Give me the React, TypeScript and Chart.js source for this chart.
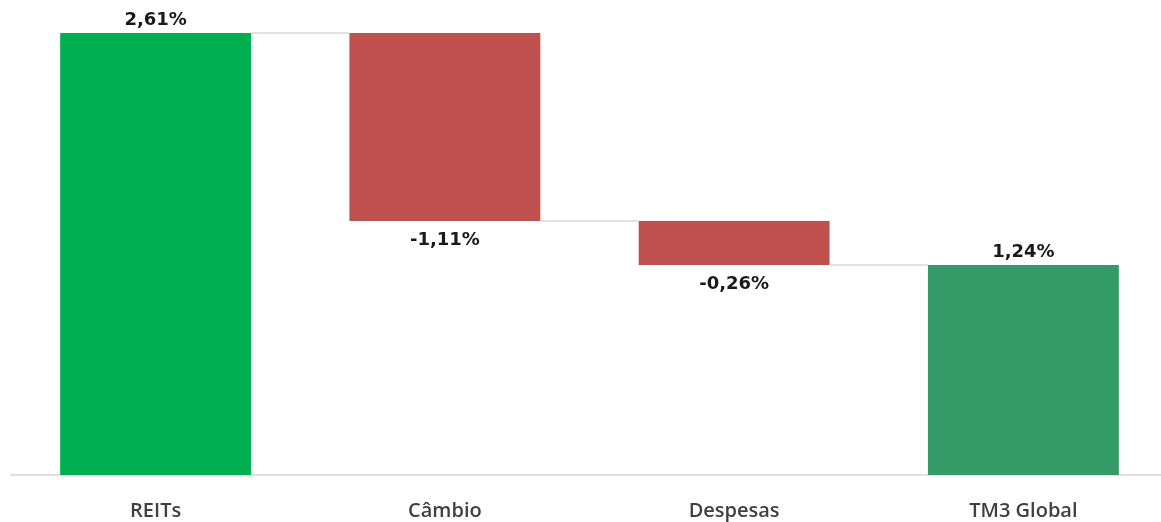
import React, { useEffect, useRef } from "react";
import { Chart, registerables } from "chart.js";

Chart.register(...registerables);

const categories = ["REITs", "Câmbio", "Despesas", "TM3 Global"];
// Contribution of each step (percentage points); last bar is the total.
const changes = [2.61, -1.11, -0.26];
const totalValue = 1.24;
const barColors = ["#00AF50", "#C0504D", "#C0504D", "#349A68"];

const fmt = (v: number) => v.toFixed(2).replace(".", ",") + "%";

// Build floating ranges for the waterfall
const ranges: [number, number][] = [];
const displayValues: number[] = [];
let running = 0;
changes.forEach((c) => {
  const start = running;
  running += c;
  ranges.push([Math.min(start, running), Math.max(start, running)]);
  displayValues.push(c);
});
ranges.push([0, totalValue]);
displayValues.push(totalValue);

const waterfallPlugin = {
  id: "waterfallDecor",
  afterDatasetsDraw(chart: any) {
    const { ctx } = chart;
    const meta = chart.getDatasetMeta(0);
    const yScale = chart.scales.y;
    ctx.save();
    // connector lines between consecutive bars
    ctx.strokeStyle = "#d9d9d9";
    ctx.lineWidth = 1.5;
    for (let i = 0; i < meta.data.length - 1; i++) {
      const a = meta.data[i] as any;
      const b = meta.data[i + 1] as any;
      const level = ranges.slice(0, i + 1).reduce((s, _r, k) => s + (k < changes.length ? changes[k] : 0), 0);
      const y = yScale.getPixelForValue(level);
      ctx.beginPath();
      ctx.moveTo(a.x + a.width / 2, y);
      ctx.lineTo(b.x - b.width / 2, y);
      ctx.stroke();
    }
    // value labels
    ctx.font = "bold 18px 'DejaVu Sans', Verdana, sans-serif";
    ctx.fillStyle = "#1a1a1a";
    ctx.textAlign = "center";
    meta.data.forEach((bar: any, i: number) => {
      const v = displayValues[i];
      const r = ranges[i];
      if (v >= 0) {
        ctx.textBaseline = "bottom";
        ctx.fillText(fmt(v), bar.x, yScale.getPixelForValue(r[1]) - 4);
      } else {
        ctx.textBaseline = "top";
        ctx.fillText(fmt(v), bar.x, yScale.getPixelForValue(r[0]) + 10);
      }
    });
    ctx.restore();
  },
};

export default function App() {
  const ref = useRef<HTMLCanvasElement | null>(null);
  useEffect(() => {
    if (!ref.current) return;
    const chart = new Chart(ref.current, {
      type: "bar",
      data: {
        labels: categories,
        datasets: [
          {
            data: ranges as any,
            backgroundColor: barColors,
            borderWidth: 0,
            borderSkipped: false,
            categoryPercentage: 1,
            barPercentage: 0.66,
          },
        ],
      },
      options: {
        animation: false,
        responsive: true,
        maintainAspectRatio: false,
        layout: { padding: { left: 11, right: 2, top: 0, bottom: 0 } },
        plugins: { legend: { display: false }, tooltip: { enabled: false } },
        scales: {
          x: {
            grid: { display: false, drawTicks: false },
            border: { display: true, color: "#e0e0e0", width: 2 },
            ticks: {
              color: "#404040",
              padding: 24,
              font: { family: "'Open Sans', sans-serif", size: 20, weight: "600" as any },
            },
            afterFit: (s: any) => {
              s.height = 47;
            },
          },
          y: {
            display: false,
            min: 0,
            max: 2.805,
          },
        },
      },
      plugins: [waterfallPlugin],
    });
    return () => chart.destroy();
  }, []);
  return (
    <div style={{ position: "fixed", left: 0, top: 0, width: 1161, height: 522, overflow: "hidden", background: "#fff" }}>
      <div style={{ position: "relative", width: 1170, height: 522 }}>
        <canvas ref={ref} />
      </div>
    </div>
  );
}
